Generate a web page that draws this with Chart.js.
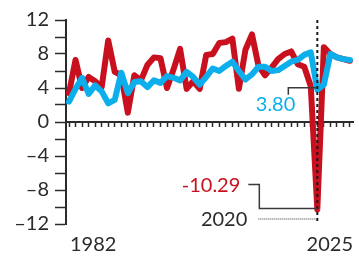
<!DOCTYPE html>
<html lang="en">
<head>
  <meta charset="UTF-8" />
  <title>Crecimiento del PIB</title>
  <script src="https://cdn.jsdelivr.net/npm/chart.js"></script>
  <style>
    body { margin: 0; background: #fff; }
    canvas { display: block; }
  </style>
</head>
<body>
  <canvas id="grafica" width="359" height="261"></canvas>
  <script>
    // años 1982-2025, crecimiento real del PIB (%)
    const years = [1982, 1983, 1984, 1985, 1986, 1987, 1988, 1989, 1990, 1991,
      1992, 1993, 1994, 1995, 1996, 1997, 1998, 1999, 2000, 2001,
      2002, 2003, 2004, 2005, 2006, 2007, 2008, 2009, 2010, 2011,
      2012, 2013, 2014, 2015, 2016, 2017, 2018, 2019, 2020, 2021,
      2022, 2023, 2024, 2025];
    const india = [3.4, 7.3, 4.0, 5.3, 4.8, 4.1, 9.6, 5.9, 5.5, 1.1,
      5.5, 4.9, 6.7, 7.6, 7.5, 4.0, 6.2, 8.6, 3.9, 4.8,
      3.9, 7.9, 8.0, 9.3, 9.4, 9.8, 3.9, 8.5, 10.3, 6.6,
      5.5, 6.4, 7.4, 8.0, 8.3, 6.8, 6.5, 4.2, -10.29, 8.8,
      8.0, 7.6, 7.4, 7.2];
    const bangladesh = [2.4, 3.9, 5.2, 3.3, 4.3, 3.6, 2.2, 2.6, 5.8, 3.4,
      4.7, 4.8, 4.1, 4.9, 4.6, 5.4, 5.2, 4.9, 5.9, 5.3,
      4.4, 5.3, 6.3, 6.0, 6.6, 7.1, 6.0, 5.0, 5.6, 6.5,
      6.5, 6.0, 6.1, 6.6, 7.1, 7.3, 7.9, 8.2, 3.80, 4.4,
      8.0, 7.6, 7.4, 7.3];
    const yTickValues = [-12, -10, -8, -6, -4, -2, 0, 2, 4, 6, 8, 10, 12];
    const yLabelled = [-12, -8, -4, 0, 4, 8, 12];
    const endLabels = ['1982', '2025'];
    const markYear = 2020;
    const markText = '2020';
    const indiaMark = -10.29;
    const bangladeshMark = 3.80;

    const FUENTE = "Lato, 'Open Sans', sans-serif";
    const TINTA = '#2b2b2b';
    const ROJO = '#c8101e';
    const AZUL = '#0cafeb';

    // líneas guía y rótulos
    const anotaciones = {
      id: 'anotaciones',
      afterDatasetsDraw(chart) {
        const { ctx, chartArea, scales: { x, y } } = chart;
        const xm = x.getPixelForValue(markYear);
        const yRojo = y.getPixelForValue(indiaMark);
        const yAzul = y.getPixelForValue(bangladeshMark);
        ctx.save();

        // línea punteada vertical en 2020
        ctx.strokeStyle = '#1a1a1a';
        ctx.lineWidth = 2;
        ctx.setLineDash([3, 3]);
        ctx.beginPath();
        ctx.moveTo(xm, chartArea.top);
        ctx.lineTo(xm, chartArea.bottom);
        ctx.stroke();

        // conectores
        ctx.setLineDash([]);
        ctx.lineWidth = 1.5;
        ctx.strokeStyle = '#3a3a3a';
        ctx.beginPath();
        ctx.moveTo(xm - 29, yAzul + 5);
        ctx.lineTo(xm - 29, yAzul - 2);
        ctx.lineTo(xm, yAzul - 2);
        ctx.stroke();

        ctx.beginPath();
        ctx.moveTo(xm - 69, yRojo - 25);
        ctx.lineTo(xm - 58, yRojo - 25);
        ctx.lineTo(xm - 58, yRojo - 1);
        ctx.lineTo(xm, yRojo - 1);
        ctx.stroke();

        ctx.lineWidth = 1;
        ctx.setLineDash([1, 1]);
        ctx.beginPath();
        ctx.moveTo(xm - 59, chartArea.bottom - 5);
        ctx.lineTo(xm, chartArea.bottom - 5);
        ctx.stroke();

        // textos
        ctx.font = '20px ' + FUENTE;
        ctx.textBaseline = 'middle';
        ctx.textAlign = 'right';
        ctx.fillStyle = AZUL;
        ctx.fillText(bangladeshMark.toFixed(2), xm - 22, yAzul + 15);
        ctx.fillStyle = ROJO;
        ctx.fillText(indiaMark.toFixed(2), xm - 77, yRojo - 24);
        ctx.fillStyle = TINTA;
        ctx.fillText(markText, xm - 70, chartArea.bottom - 4);

        ctx.textAlign = 'left';
        ctx.fillText(endLabels[0], x.getPixelForValue(years[0]) + 1, chartArea.bottom + 21);
        ctx.textAlign = 'right';
        ctx.fillText(endLabels[1], x.getPixelForValue(years[years.length - 1]) + 3, chartArea.bottom + 21);
        ctx.restore();
      }
    };

    const puntos = serie => years.map((a, i) => ({ x: a, y: serie[i] }));

    new Chart(document.getElementById('grafica'), {
      type: 'line',
      data: {
        datasets: [
          { label: 'Bangladesh', data: puntos(bangladesh), borderColor: AZUL, borderWidth: 6, order: 0 },
          { label: 'India', data: puntos(india), borderColor: ROJO, borderWidth: 6, order: 1 }
        ]
      },
      options: {
        responsive: false,
        animation: false,
        layout: { padding: { top: 20, bottom: 37, left: 0, right: 6 } },
        elements: {
          point: { radius: 0 },
          line: { tension: 0, borderJoinStyle: 'round', borderCapStyle: 'round', fill: false }
        },
        plugins: { legend: { display: false }, tooltip: { enabled: false } },
        scales: {
          x: {
            type: 'linear',
            position: { y: 0 },
            min: 1981.54,
            max: 2025.46,
            afterBuildTicks: s => { s.ticks = years.map(v => ({ value: v })); },
            ticks: { display: false, autoSkip: false },
            grid: { drawOnChartArea: false, tickLength: 4, tickColor: TINTA, tickWidth: 1.5 },
            border: { color: TINTA, width: 2 }
          },
          y: {
            min: -12,
            max: 12,
            afterFit: s => { s.width = 66; },
            afterBuildTicks: s => { s.ticks = yTickValues.map(v => ({ value: v })); },
            ticks: {
              autoSkip: false,
              padding: 6,
              color: TINTA,
              font: { family: FUENTE, size: 20 },
              callback: v => yLabelled.includes(v) ? String(v).replace('-', '–') : ''
            },
            grid: { drawOnChartArea: false, tickLength: 11, tickColor: TINTA, tickWidth: 1.5 },
            border: { color: TINTA, width: 2 }
          }
        }
      },
      plugins: [anotaciones]
    });
  </script>
</body>
</html>
